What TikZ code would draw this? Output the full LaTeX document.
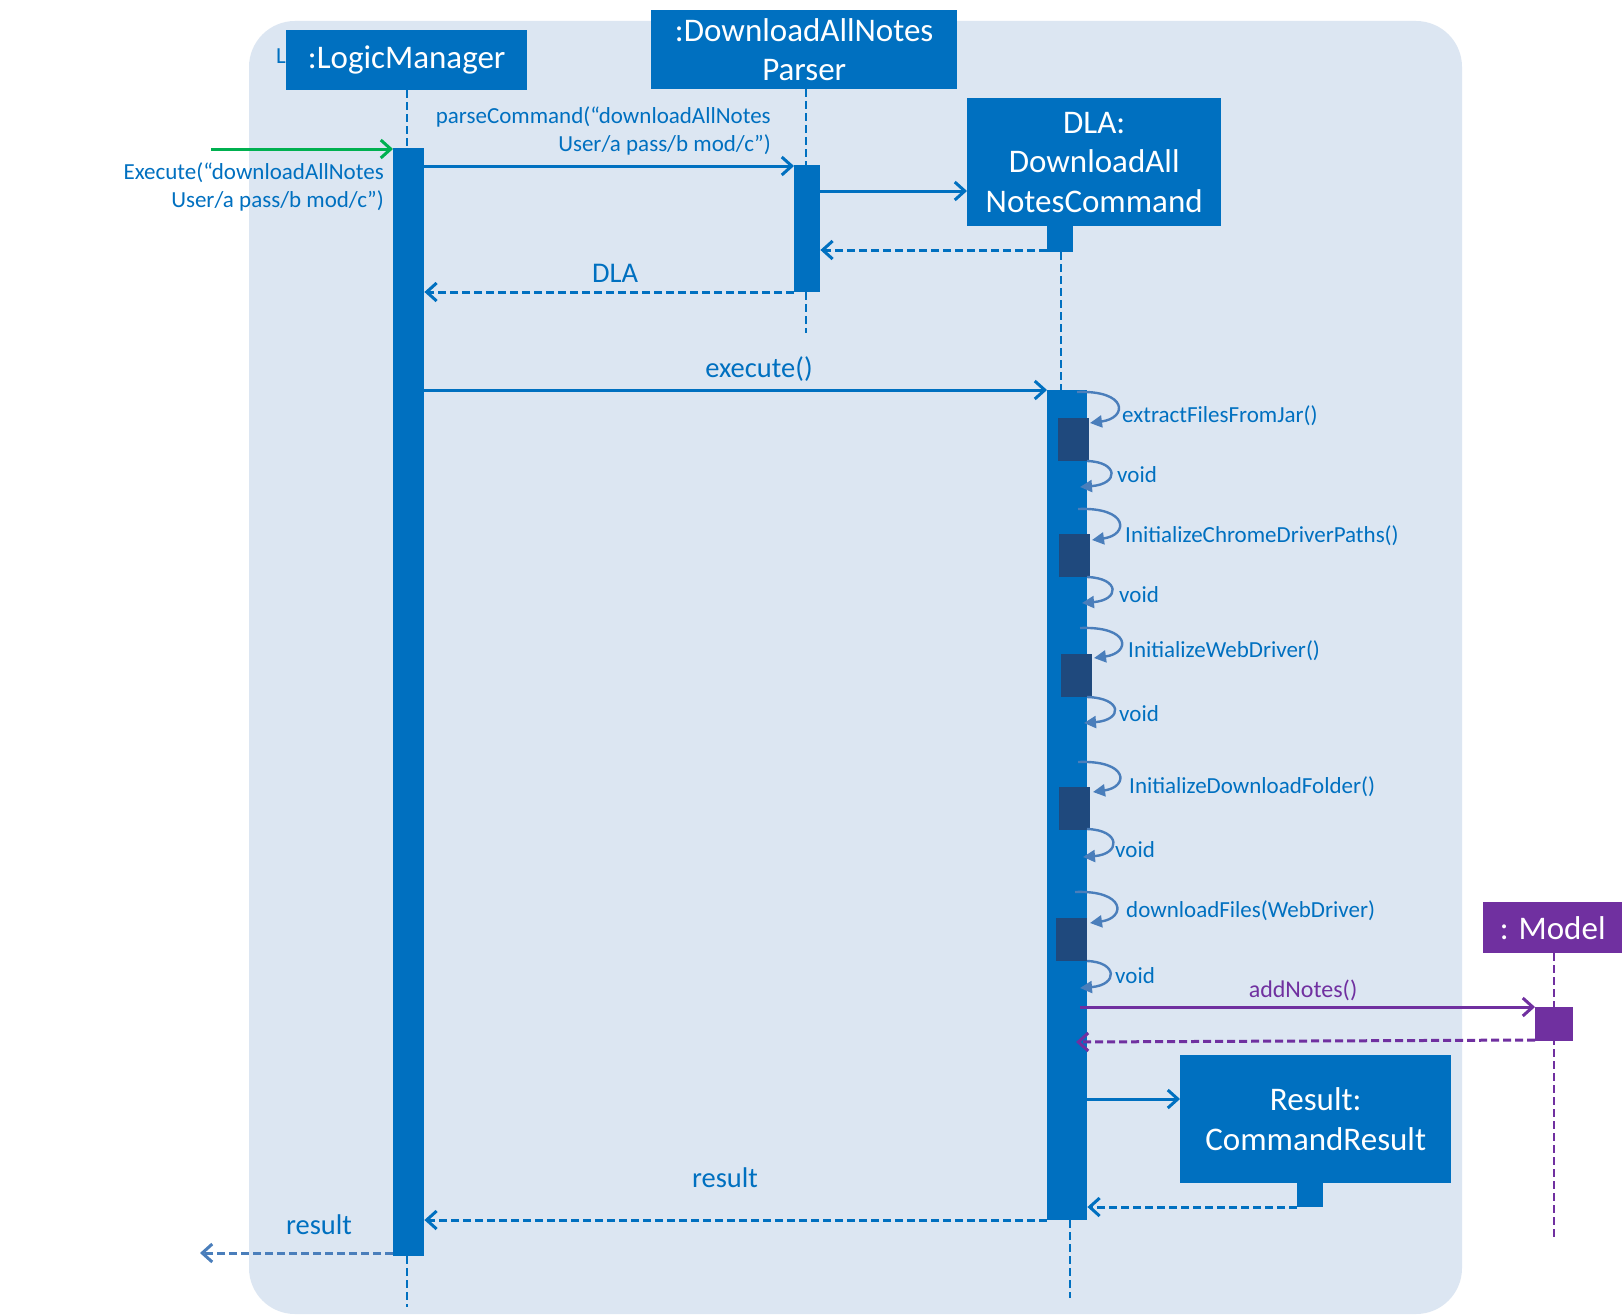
\documentclass[tikz,border=0pt]{standalone}
\usepackage{fontspec}
\setmainfont{Carlito}
\usetikzlibrary{arrows.meta}
\definecolor{boxblue}{HTML}{0070C0}
\definecolor{bgblue}{HTML}{DCE6F2}
\definecolor{darkbar}{HTML}{1F497D}
\definecolor{selfblue}{HTML}{4A7EBB}
\definecolor{purp}{HTML}{7030A0}
\definecolor{grn}{HTML}{00B050}
\begin{document}
\begin{tikzpicture}[x=1pt,y=-1pt,
  obj/.style={fill=boxblue, text=white, font=\fontsize{33}{39.5}\selectfont, align=center, inner sep=0pt, anchor=north west},
  bar/.style={fill=boxblue, inner sep=0pt, anchor=north west},
  dkbar/.style={fill=darkbar, inner sep=0pt, anchor=north west, minimum width=31pt, minimum height=43pt},
  lbl/.style={text=boxblue, font=\fontsize{23}{28}\selectfont, inner sep=0pt},
  biglbl/.style={text=boxblue, font=\fontsize{28.5}{34}\selectfont, inner sep=0pt},
  lifeline/.style={draw=boxblue, line width=2.7pt, dash pattern=on 8pt off 4pt},
  msg/.style={draw=boxblue, line width=3pt, -{Straight Barb[length=10pt,width=18pt]}},
  ret/.style={msg, dash pattern=on 8pt off 4pt},
  selfcall/.style={draw=selfblue, line width=2.4pt, -{Triangle[length=12pt,width=12pt]}}
]
\useasboundingbox[fill=white] (0,0) rectangle (1624,1314);
% background frame
\fill[bgblue, rounded corners=46pt] (249,21) rectangle (1462,1314);
\node[lbl, anchor=west] (frametitle) at (276,56) {L};

% objects
\node[obj, minimum width=241pt, minimum height=60pt] (lm) at (286,30) {:LogicManager};
\node[obj, minimum width=306pt, minimum height=79pt] (parser) at (651,10) {:DownloadAllNotes\\Parser};
\node[obj, minimum width=254pt, minimum height=128pt] (dla) at (967,98) {DLA:\\DownloadAll\\NotesCommand};
\node[bar, minimum width=26pt, minimum height=26pt] (dlasq) at (1047,226) {};
\node[obj, minimum width=139pt, minimum height=51pt, fill=purp] (model) at (1483,902) {: Model};
\node[obj, minimum width=271pt, minimum height=128pt] (res) at (1180,1055) {Result:\\CommandResult};
\node[bar, minimum width=26pt, minimum height=24pt] (ressq) at (1297,1183) {};

% lifelines
\coordinate (lmend) at (407,1307);
\coordinate (pend) at (806,333);
\coordinate (dlaend) at (1070,1298);
\coordinate (mend) at (1554,1240);
\draw[lifeline] (407,90) -- (407,148);
\draw[lifeline] (lmend |- 0,1256) -- (lmend);
\draw[lifeline] (806,89) -- (806,165);
\draw[lifeline] (806,292) -- (pend);
\draw[lifeline] (1061,252) -- (1061,390);
\draw[lifeline] (dlaend |- 0,1220) -- (dlaend);
\draw[lifeline, draw=purp] (1554,953) -- (mend);

% activation bars
\node[bar, minimum width=31pt, minimum height=1108pt] (lmbar) at (393,148) {};
\node[bar, minimum width=26pt, minimum height=127pt] (pbar) at (794,165) {};
\node[bar, minimum width=40pt, minimum height=830pt] (dlabar) at (1047,390) {};
\node[bar, fill=purp, minimum width=38pt, minimum height=34pt] (mbar) at (1535,1007) {};
\node[dkbar] (dk1) at (1058,418) {};
\node[dkbar] (dk2) at (1059,534) {};
\node[dkbar] (dk3) at (1061,654) {};
\node[dkbar] (dk4) at (1059,787) {};
\node[dkbar] (dk5) at (1056,918) {};

% incoming call
\coordinate (entry) at (211,149);
\draw[msg, draw=grn] (entry) -- (lmbar.west |- entry);
\node[lbl, align=right, anchor=east] (exlbl) at (384,186.5) {Execute(“downloadAllNotes\\User/a pass/b mod/c”)};

% parseCommand
\draw[msg] (lmbar.east |- 0,166) -- (pbar.west |- 0,166);
\node[lbl, align=right, anchor=east] (pclbl) at (771,131) {parseCommand(“downloadAllNotes\\User/a pass/b mod/c”)};
% create DLA
\draw[msg] (pbar.east |- 0,191) -- (dla.west |- 0,191);
\draw[ret] (dlasq.west |- 0,250) -- (pbar.east |- 0,250);
% return DLA
\draw[ret] (pbar.west |- 0,292) -- (lmbar.east |- 0,292);
\node[biglbl] (dlalbl) at (615,273) {DLA};
% execute
\draw[msg] (lmbar.east |- 0,390) -- (dlabar.west |- 0,390);
\node[biglbl] (exelbl) at (759,369) {execute()};

% self calls
\draw[selfcall] (1077,392) .. controls (1128,390) and (1128,418) .. (1090,423);
\draw[selfcall] (1087,461) .. controls (1119,462) and (1119,484) .. (1080,487);
\draw[selfcall] (1078,509) .. controls (1129,507) and (1129,535) .. (1092,540);
\draw[selfcall] (1087,577) .. controls (1120,578) and (1120,600) .. (1082,603);
\draw[selfcall] (1080,628) .. controls (1131,626) and (1131,653) .. (1094,658);
\draw[selfcall] (1087,697) .. controls (1123,698) and (1123,720) .. (1084,723);
\draw[selfcall] (1078,762) .. controls (1129,760) and (1129,787) .. (1093,792);
\draw[selfcall] (1087,829) .. controls (1121,830) and (1121,854) .. (1083,857);
\draw[selfcall] (1075,892) .. controls (1126,890) and (1126,918) .. (1090,923);
\draw[selfcall] (1087,961) .. controls (1118,962) and (1118,985) .. (1080,988);
\node[lbl, anchor=west] (s1) at (1122,416) {extractFilesFromJar()};
\node[lbl, anchor=west] (v1) at (1117,475) {void};
\node[lbl, anchor=west] (s2) at (1125,536) {InitializeChromeDriverPaths()};
\node[lbl, anchor=west] (v2) at (1119,595) {void};
\node[lbl, anchor=west] (s3) at (1128,651) {InitializeWebDriver()};
\node[lbl, anchor=west] (v3) at (1119,714) {void};
\node[lbl, anchor=west] (s4) at (1129,787) {InitializeDownloadFolder()};
\node[lbl, anchor=west] (v4) at (1115,850) {void};
\node[lbl, anchor=west] (s5) at (1126,911) {downloadFiles(WebDriver)};
\node[lbl, anchor=west] (v5) at (1115,976) {void};

% addNotes
\draw[msg, draw=purp] (1080,1007) -- (mbar.west |- 0,1007);
\node[lbl, text=purp, font=\fontsize{24}{28}\selectfont] (anlbl) at (1303,990) {addNotes()};
\draw[ret, draw=purp] (mbar.west |- 0,1040) -- (1076,1042);

% create result
\draw[msg] (dlabar.east |- 0,1099) -- (res.west |- 0,1099);
\draw[ret] (ressq.west |- 0,1207) -- (dlabar.east |- 0,1207);
% return result
\draw[ret] (dlabar.west |- 0,1220) -- (lmbar.east |- 0,1220);
\node[biglbl] (rlbl) at (725,1178) {result};
% final result
\coordinate (exit) at (200,1253);
\draw[ret, draw=selfblue] (lmbar.west |- exit) -- (exit);
\node[biglbl] (rlbl2) at (319,1225) {result};
\end{tikzpicture}
\end{document}
